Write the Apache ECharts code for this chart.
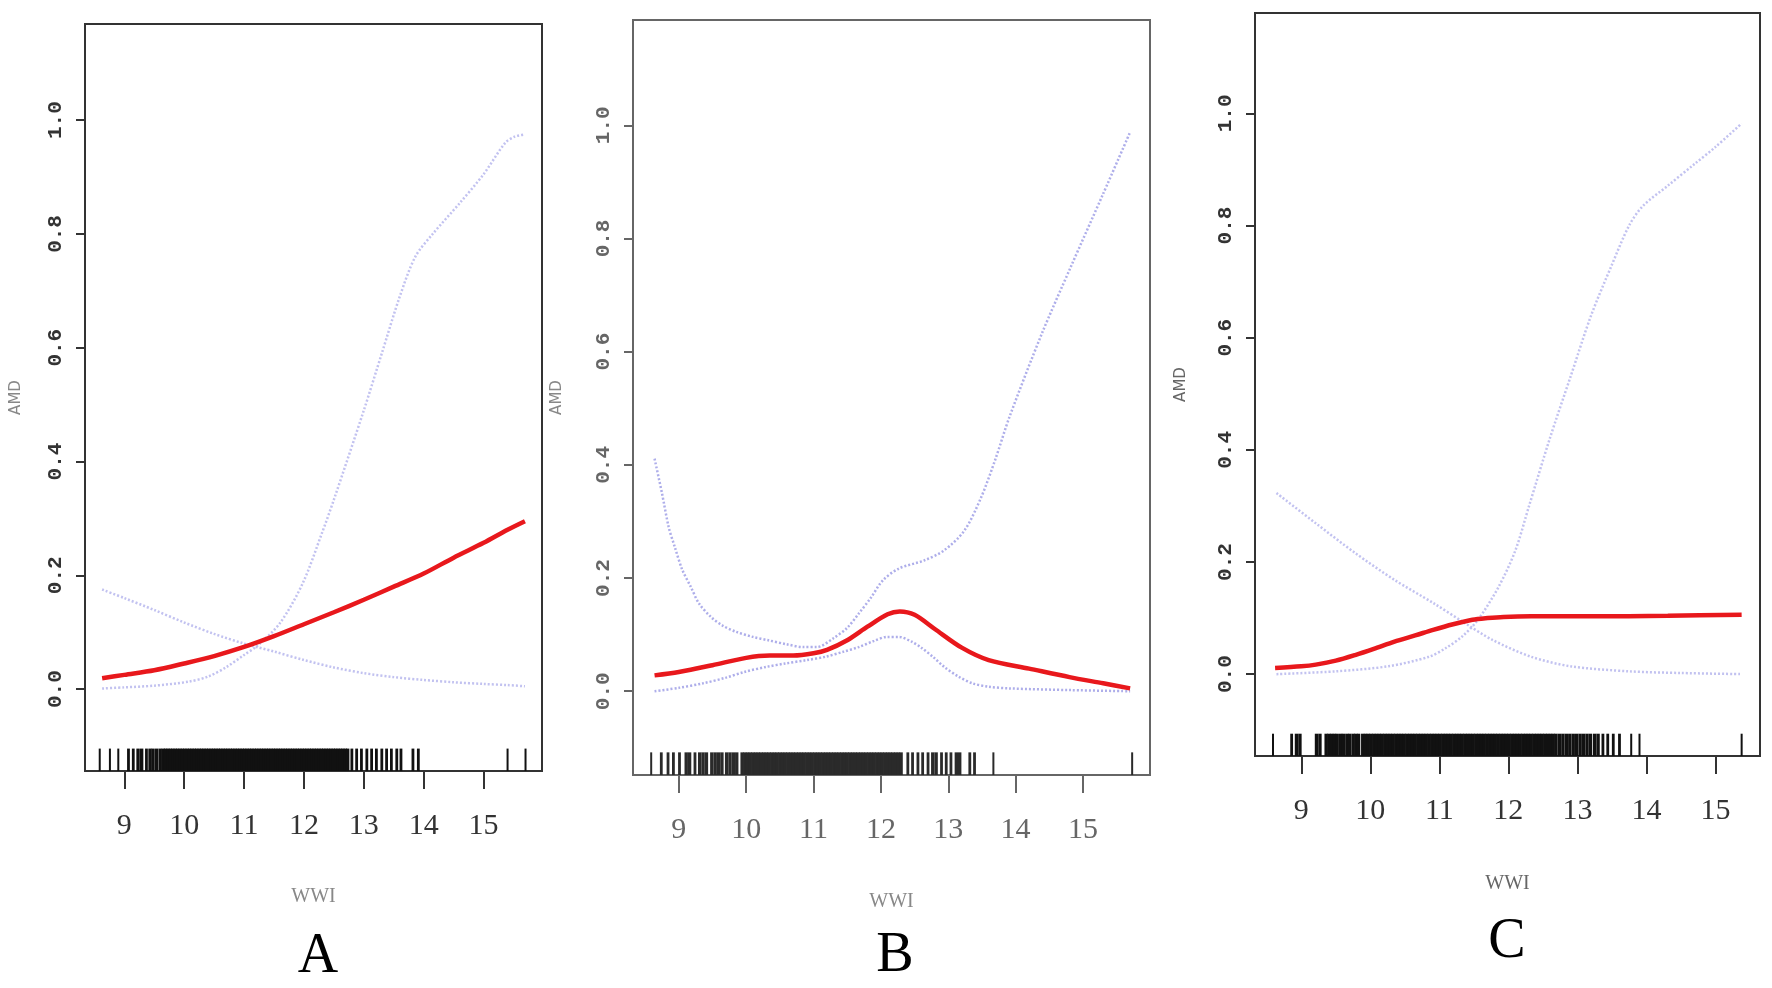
<!DOCTYPE html>
<html>
<head>
<meta charset="utf-8">
<title>AMD vs WWI</title>
<script src="https://cdn.jsdelivr.net/npm/echarts@6.0.0/dist/echarts.min.js"></script>
<style>
  html, body { margin: 0; padding: 0; background: #fff; }
  #chart { width: 1772px; height: 988px; }
</style>
</head>
<body>
<div id="chart"></div>
<script>
// tick labels
const xTicks = [9, 10, 11, 12, 13, 14, 15];
const yTicks = [0, 0.2, 0.4, 0.6, 0.8, 1.0];
const letters = ['A', 'B', 'C'];

// panel A
const fitA = [[8.63, 0.019], [9.0, 0.025], [9.5, 0.033], [10.0, 0.045], [10.5, 0.058], [11.0, 0.074],
  [11.5, 0.093], [12.0, 0.114], [12.5, 0.135], [13.0, 0.157], [13.5, 0.18], [14.0, 0.203],
  [14.5, 0.231], [15.0, 0.257], [15.4, 0.28], [15.69, 0.295]];
const upperA = [[8.63, 0.001], [9.0, 0.003], [9.5, 0.006], [10.07, 0.013], [10.4, 0.022], [10.71, 0.039],
  [11.0, 0.06], [11.22, 0.076], [11.6, 0.116], [11.98, 0.186], [12.3, 0.274], [12.5, 0.333],
  [13.0, 0.49], [13.3, 0.59], [13.6, 0.69], [13.86, 0.76], [14.15, 0.8], [14.6, 0.854],
  [15.0, 0.905], [15.36, 0.96], [15.52, 0.971], [15.69, 0.975]];
const lowerA = [[8.63, 0.175], [9.0, 0.16], [9.5, 0.139], [10.0, 0.117], [10.5, 0.097], [11.0, 0.08],
  [11.5, 0.066], [12.0, 0.051], [12.5, 0.038], [13.0, 0.028], [13.5, 0.021], [14.0, 0.016],
  [14.5, 0.012], [15.0, 0.009], [15.4, 0.007], [15.69, 0.005]];
const rugA = [8.59, 8.76, 8.90, 9.07, 9.15, 9.23, 9.29, 9.37, 9.43, 9.48, 9.54, 9.60, 9.65,
  9.69, 9.73, 9.77, 9.81, 9.85, 9.89, 9.93, 9.97, 10.01, 10.05, 10.09, 10.13, 10.17, 10.21,
  10.25, 10.29, 10.33, 10.37, 10.41, 10.45, 10.49, 10.53, 10.57, 10.61, 10.65, 10.69, 10.73,
  10.77, 10.81, 10.85, 10.89, 10.93, 10.97, 11.01, 11.05, 11.09, 11.13, 11.17, 11.21, 11.25,
  11.29, 11.33, 11.37, 11.41, 11.45, 11.49, 11.53, 11.57, 11.61, 11.65, 11.69, 11.73, 11.77,
  11.81, 11.85, 11.89, 11.93, 11.97, 12.01, 12.05, 12.09, 12.13, 12.17, 12.21, 12.25, 12.29,
  12.33, 12.37, 12.41, 12.45, 12.49, 12.53, 12.57, 12.61, 12.65, 12.69, 12.73,
  12.80, 12.88, 12.96, 13.05, 13.13, 13.21, 13.30, 13.38, 13.46, 13.55, 13.62, 13.82, 13.91,
  15.40, 15.70];

// panel B
const fitB = [[8.64, 0.028], [9.0, 0.034], [9.5, 0.046], [10.0, 0.059], [10.35, 0.063], [10.7, 0.063],
  [11.0, 0.067], [11.2, 0.073], [11.5, 0.09], [11.8, 0.114], [12.1, 0.136], [12.28, 0.141],
  [12.5, 0.135], [12.8, 0.11], [13.2, 0.077], [13.6, 0.055], [14.2, 0.04], [14.8, 0.025],
  [15.3, 0.014], [15.7, 0.005]];
const upperB = [[8.64, 0.411], [8.75, 0.35], [8.85, 0.29], [8.94, 0.255], [9.05, 0.215], [9.18, 0.184],
  [9.3, 0.155], [9.48, 0.131], [9.65, 0.116], [9.85, 0.105], [10.1, 0.096], [10.33, 0.09],
  [10.6, 0.083], [10.85, 0.078], [11.05, 0.078], [11.3, 0.094], [11.5, 0.112], [11.67, 0.137],
  [11.85, 0.165], [12.03, 0.196], [12.27, 0.217], [12.64, 0.231], [12.94, 0.249], [13.24, 0.284],
  [13.49, 0.343], [13.7, 0.41], [13.91, 0.485], [14.39, 0.632], [14.82, 0.75], [15.3, 0.879],
  [15.7, 0.988]];
const lowerB = [[8.64, 0.0], [9.0, 0.006], [9.36, 0.014], [9.7, 0.024], [9.97, 0.034], [10.3, 0.043],
  [10.58, 0.049], [10.9, 0.055], [11.18, 0.061], [11.45, 0.07], [11.67, 0.078], [11.9, 0.089],
  [12.09, 0.096], [12.27, 0.096], [12.45, 0.088], [12.6, 0.077], [12.78, 0.06], [12.94, 0.043],
  [13.15, 0.026], [13.36, 0.014], [13.6, 0.008], [13.91, 0.005], [14.82, 0.002], [15.7, 0.0]];
const rugB = [8.59, 8.74, 8.84, 8.92, 9.01, 9.11, 9.16, 9.24, 9.31, 9.36, 9.41, 9.49, 9.54, 9.59,
  9.64, 9.71, 9.76, 9.81, 9.86,
  9.94, 9.98, 10.02, 10.06, 10.10, 10.14, 10.18, 10.22, 10.26, 10.30, 10.34, 10.38, 10.42,
  10.46, 10.50, 10.54, 10.58, 10.62, 10.66, 10.70, 10.74, 10.78, 10.82, 10.86, 10.90, 10.94,
  10.98, 11.02, 11.06, 11.10, 11.14, 11.18, 11.22, 11.26, 11.30, 11.34, 11.38, 11.42, 11.46,
  11.50, 11.54, 11.58, 11.62, 11.66, 11.70, 11.74, 11.78, 11.82, 11.86, 11.90, 11.94, 11.98,
  12.02, 12.06, 12.10, 12.14, 12.18, 12.22, 12.26, 12.30,
  12.40, 12.47, 12.55, 12.62, 12.70, 12.77, 12.82, 12.90, 12.97, 13.04, 13.12, 13.17, 13.32,
  13.39, 13.67, 15.73];

// panel C
const fitC = [[8.62, 0.011], [9.0, 0.014], [9.21, 0.017], [9.5, 0.024], [9.78, 0.034], [10.05, 0.045],
  [10.35, 0.058], [10.65, 0.069], [10.91, 0.079], [11.2, 0.089], [11.48, 0.097], [11.7, 0.1],
  [11.93, 0.102], [12.33, 0.103], [13.17, 0.103], [14.31, 0.104], [15.38, 0.106]];
const upperC = [[8.64, 0.0], [9.5, 0.005], [10.26, 0.014], [10.85, 0.031], [11.1, 0.047], [11.33, 0.067],
  [11.56, 0.097], [11.86, 0.156], [12.1, 0.22], [12.3, 0.3], [12.6, 0.42], [12.9, 0.53],
  [13.2, 0.64], [13.5, 0.73], [13.75, 0.8], [13.95, 0.835], [14.3, 0.87], [14.7, 0.91],
  [15.0, 0.94], [15.38, 0.982]];
const lowerC = [[8.64, 0.323], [9.21, 0.269], [9.78, 0.216], [10.35, 0.168], [10.91, 0.127], [11.37, 0.091],
  [11.77, 0.061], [12.33, 0.031], [12.9, 0.014], [13.75, 0.005], [14.5, 0.002], [15.38, 0.0]];
const rugC = [8.59, 8.86, 8.93, 8.98, 9.22, 9.27, 9.36, 9.40, 9.44, 9.48, 9.52, 9.57, 9.61, 9.66,
  9.70, 9.75, 9.79, 9.83,
  9.89, 9.93, 9.97, 10.01, 10.05, 10.09, 10.13, 10.17, 10.21, 10.25, 10.29, 10.33, 10.37,
  10.41, 10.45, 10.49, 10.53, 10.57, 10.61, 10.65, 10.69, 10.73, 10.77, 10.81, 10.85, 10.89,
  10.93, 10.97, 11.01, 11.05, 11.09, 11.13, 11.17, 11.21, 11.25, 11.29, 11.33, 11.37, 11.41,
  11.45, 11.49, 11.53, 11.57, 11.61, 11.65, 11.69, 11.73, 11.77, 11.81, 11.85, 11.89, 11.93,
  11.97, 12.01, 12.05, 12.09, 12.13, 12.17, 12.21, 12.25, 12.29, 12.33, 12.37, 12.41, 12.45,
  12.49, 12.53, 12.57, 12.61, 12.65, 12.69,
  12.74, 12.79, 12.84, 12.89, 12.94, 12.99, 13.04, 13.09, 13.14, 13.19, 13.25, 13.30, 13.37,
  13.44, 13.52, 13.61, 13.78, 13.90, 15.38];

const panels = [
  {
    grid: { left: 85, top: 24, width: 457, height: 747 },
    xRange: [8.344, 15.975], yRange: [-0.144, 1.169],
    fit: fitA, upper: upperA, lower: lowerA, rug: rugA,
    ink: '#333', soft: '#888', band: '#c2c2f0', rugInk: '#111',
    yNameGap: 61, xNameGap: 116, letterAt: [318, 957],
  },
  {
    grid: { left: 633, top: 20, width: 517, height: 755 },
    xRange: [8.32, 15.995], yRange: [-0.148, 1.186],
    fit: fitB, upper: upperB, lower: lowerB, rug: rugB,
    ink: '#666', soft: '#888', band: '#aeaeea', rugInk: '#2a2a2a',
    yNameGap: 68, xNameGap: 117, letterAt: [895, 956],
  },
  {
    grid: { left: 1255, top: 13, width: 505, height: 743 },
    xRange: [8.329, 15.646], yRange: [-0.146, 1.179],
    fit: fitC, upper: upperC, lower: lowerC, rug: rugC,
    ink: '#333', soft: '#666', band: '#c2c2f0', rugInk: '#111',
    yNameGap: 66, xNameGap: 118, letterAt: [1507, 942],
  },
];

const serif = "'Liberation Serif', 'DejaVu Serif', serif";

function initChart() {
  let chartDom = document.getElementById('chart');
  let myChart = echarts.init(chartDom, null, { renderer: 'canvas' });

  let grid = [];
  let xAxis = [];
  let yAxis = [];
  let series = [];

  panels.forEach((p, i) => {
    grid.push({
      ...p.grid,
      show: true,
      borderColor: p.ink,
      borderWidth: 2,
      backgroundColor: 'transparent',
    });

    xAxis.push({
      gridIndex: i,
      type: 'value',
      min: p.xRange[0],
      max: p.xRange[1],
      name: 'WWI',
      nameLocation: 'middle',
      nameGap: p.xNameGap,
      nameTextStyle: { fontFamily: serif, fontSize: 20, color: p.soft },
      axisLine: { show: false, onZero: false },
      splitLine: { show: false },
      axisTick: {
        show: true,
        length: 18,
        customValues: xTicks,
        lineStyle: { color: p.ink, width: 2 },
      },
      axisLabel: {
        customValues: xTicks,
        margin: 40,
        fontFamily: serif,
        fontSize: 30,
        color: p.ink,
      },
    });

    yAxis.push({
      gridIndex: i,
      type: 'value',
      min: p.yRange[0],
      max: p.yRange[1],
      name: 'AMD',
      nameLocation: 'middle',
      nameRotate: 90,
      nameGap: p.yNameGap,
      nameTextStyle: { fontFamily: 'DejaVu Sans', fontSize: 15, color: p.soft },
      axisLine: { show: false, onZero: false },
      splitLine: { show: false },
      axisTick: {
        show: true,
        length: 9,
        customValues: yTicks,
        lineStyle: { color: p.ink, width: 2 },
      },
      axisLabel: {
        customValues: yTicks,
        rotate: 90,
        margin: 19,
        fontFamily: "'Liberation Mono', 'DejaVu Sans Mono', monospace",
        fontWeight: 'bold',
        fontSize: 21,
        color: p.ink,
        formatter: (v) => v.toFixed(1),
      },
    });

    const ciStyle = { color: p.band, width: 2.5, type: [2, 2] };

    series.push(
      {
        type: 'line',
        xAxisIndex: i,
        yAxisIndex: i,
        data: p.lower,
        showSymbol: false,
        smooth: 0.3,
        silent: true,
        lineStyle: ciStyle,
        z: 2,
      },
      {
        type: 'line',
        xAxisIndex: i,
        yAxisIndex: i,
        data: p.upper,
        showSymbol: false,
        smooth: 0.3,
        silent: true,
        lineStyle: ciStyle,
        z: 2,
      },
      {
        type: 'line',
        xAxisIndex: i,
        yAxisIndex: i,
        data: p.fit,
        showSymbol: false,
        smooth: 0.3,
        silent: true,
        lineStyle: { color: '#e8181c', width: 4.5 },
        z: 3,
      },
      {
        // rug marks: 3% of the plot height, standing on the bottom of the frame
        type: 'custom',
        xAxisIndex: i,
        yAxisIndex: i,
        silent: true,
        data: p.rug.map((v) => [v, p.yRange[0]]),
        encode: { x: 0, y: 1 },
        renderItem: (params, api) => {
          const k = params.dataIndex;
          const x = api.value(0);
          const prev = k > 0 ? x - p.rug[k - 1] : 1;
          const next = k < p.rug.length - 1 ? p.rug[k + 1] - x : 1;
          // packed marks merge into a solid block, as in the original
          const gap = Math.min(prev, next);
          const w = gap < 0.06 ? 3.4 : gap < 0.1 ? 2.8 : 2;
          const low = p.yRange[0];
          const high = low + 0.03 * (p.yRange[1] - p.yRange[0]);
          const p0 = api.coord([x, low]);
          const p1 = api.coord([x, high]);
          return {
            type: 'line',
            shape: { x1: p0[0], y1: p0[1], x2: p1[0], y2: p1[1] },
            style: { stroke: p.rugInk, lineWidth: w },
          };
        },
        z: 1,
      }
    );
  });

  let graphic = panels.map((p, i) => ({
    type: 'text',
    x: p.letterAt[0],
    y: p.letterAt[1],
    style: {
      text: letters[i],
      font: "56px 'Liberation Serif'",
      fill: '#000',
      align: 'center',
      verticalAlign: 'middle',
      textAlign: 'center',
      textVerticalAlign: 'middle',
    },
  }));

  let option = {
    backgroundColor: '#fff',
    animation: false,
    grid,
    xAxis,
    yAxis,
    series,
    graphic,
  };

  option && myChart.setOption(option);

  window.addEventListener('resize', function() {
    myChart.resize();
  });
}

initChart();
</script>
</body>
</html>
